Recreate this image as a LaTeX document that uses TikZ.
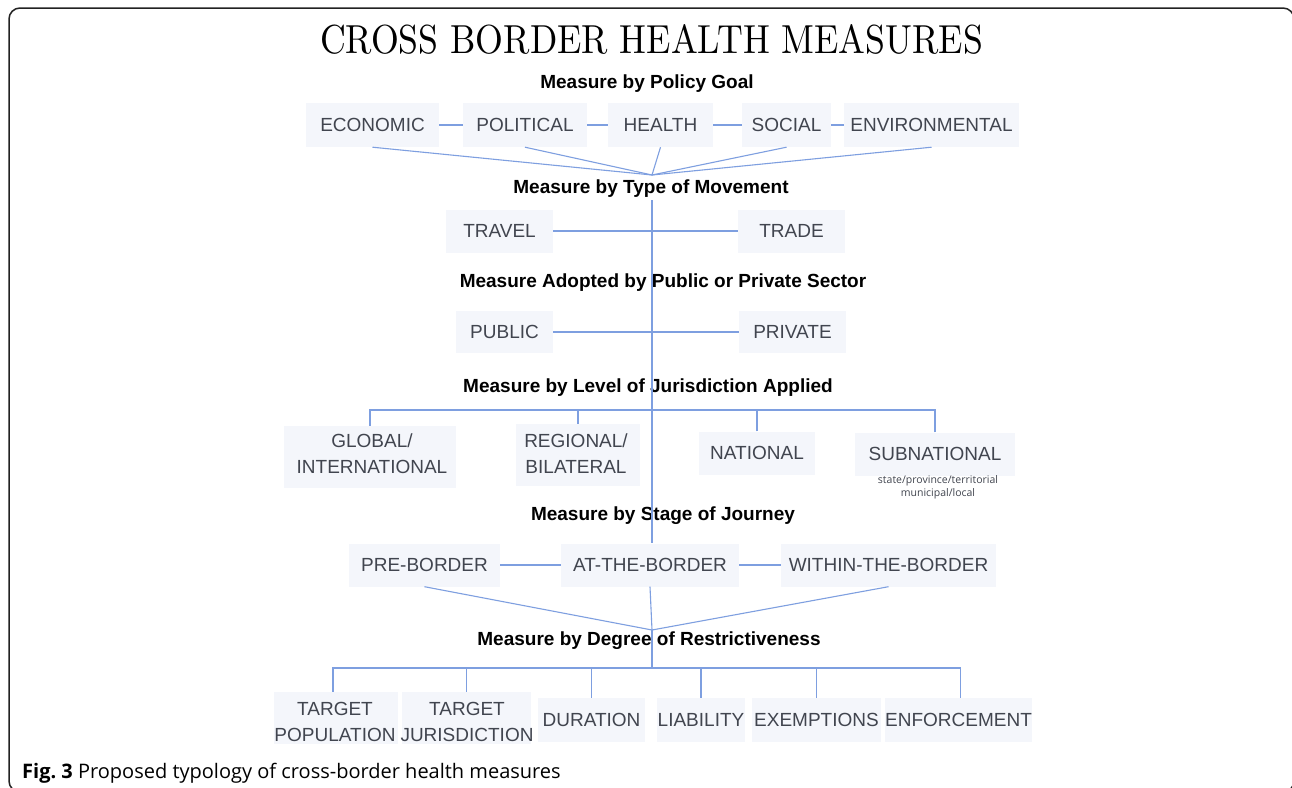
\documentclass[tikz,border=0pt]{standalone}
\usepackage{fontspec}
\setmainfont{Liberation Sans}
\newfontfamily\titlefont{Latin Modern Roman}
\newfontfamily\capfont{Open Sans}
\usetikzlibrary{calc}
\definecolor{boxfill}{HTML}{F4F6FB}
\definecolor{boxtext}{HTML}{41454F}
\definecolor{linkblue}{HTML}{7E9FE0}
\definecolor{framegray}{HTML}{222222}
\tikzset{
  catbox/.style={fill=boxfill, text=boxtext, inner sep=0pt, align=center,
    font=\fontsize{19}{27}\selectfont},
  boxlabel/.style={text=boxtext, inner sep=0pt, align=center,
    font=\fontsize{19}{26}\selectfont},
  heading/.style={font=\fontsize{19}{23}\selectfont\bfseries, text=black, inner sep=0pt},
  link/.style={draw=linkblue, line width=1.1pt},
  note/.style={font=\capfont\fontsize{10.5}{13.5}\selectfont, text=boxtext, align=center, inner sep=0pt}
}
\begin{document}
\begin{tikzpicture}[x=1pt,y=-1pt]
\useasboundingbox (0,0) rectangle (1292,787);
\fill[white] (0,0) rectangle (1292,787);
\begin{scope}
\clip (0,0) rectangle (1292,787);
\draw[framegray, line width=1.5pt, rounded corners=11pt] (9,8) rectangle (1294,792);
\end{scope}

% title
\node[anchor=base, inner sep=0pt] (title) at (651.5,53)
  {\resizebox{663pt}{29pt}{\titlefont CROSS BORDER HEALTH MEASURES}};

% level headings
\node[heading] (hgoal)  at (647,84)  {Measure by Policy Goal};
\node[heading] (hmove)  at (651,189) {Measure by Type of Movement};
\node[heading] (hsect)  at (663,283) {Measure Adopted by Public or Private Sector};
\node[heading] (hjur)   at (648,388) {Measure by Level of Jurisdiction Applied};
\node[heading] (hstage) at (663,516) {Measure by Stage of Journey};
\node[heading] (hdeg)   at (649,641) {Measure by Degree of Restrictiveness};

% connector points on the spine
\coordinate (m1) at (652,175);
\coordinate (s1) at (652,200);
\coordinate (jb) at (652,410);
\coordinate (m2) at (652,630);
\coordinate (rb) at (652,668);

% policy goals
\node[catbox, minimum width=133pt, minimum height=44pt] (eco)  at (372.5,125) {ECONOMIC};
\node[catbox, minimum width=124pt, minimum height=44pt] (pol)  at (525,125)   {POLITICAL};
\node[catbox, minimum width=105pt, minimum height=44pt] (hea)  at (660.5,125) {HEALTH};
\node[catbox, minimum width=89pt,  minimum height=44pt] (soc)  at (786.5,125) {SOCIAL};
\node[catbox, minimum width=175pt, minimum height=44pt] (env)  at (931.5,125) {ENVIRONMENTAL};

% type of movement
\node[catbox, minimum width=107pt, minimum height=43pt] (trav) at (499.5,231) {TRAVEL};
\node[catbox, minimum width=107pt, minimum height=43pt] (trad) at (791.5,231) {TRADE};

% sector
\node[catbox, minimum width=97pt,  minimum height=42pt] (pub)  at (504.5,332) {PUBLIC};
\node[catbox, minimum width=107pt, minimum height=42pt] (priv) at (792.5,332) {PRIVATE};

% jurisdiction (two-line boxes carry their label as a separate node)
\node[catbox, minimum width=172pt, minimum height=62pt] (glob) at (370,457) {};
\node[boxlabel] (globtxt) at (372,454) {GLOBAL/\\INTERNATIONAL};
\node[catbox, minimum width=124pt, minimum height=62pt] (reg)  at (578,455) {};
\node[boxlabel] (regtxt) at (576,454) {REGIONAL/\\BILATERAL};
\node[catbox, minimum width=116pt, minimum height=43pt] (nat)  at (757,453) {NATIONAL};
\node[catbox, minimum width=160pt, minimum height=43pt] (subn) at (935,454) {SUBNATIONAL};
\node[note, anchor=north] (subnote) at (938,475) {state/province/territorial\\municipal/local};

% stage of journey
\node[catbox, minimum width=151pt, minimum height=43pt] (pre) at (424.5,565) {PRE-BORDER};
\node[catbox, minimum width=178pt, minimum height=43pt] (atb) at (650,565)   {AT-THE-BORDER};
\node[catbox, minimum width=215pt, minimum height=43pt] (wtb) at (888.5,565) {WITHIN-THE-BORDER};

% restrictiveness
\node[catbox, minimum width=124pt, minimum height=52pt] (tpop) at (336,718) {};
\node[boxlabel] (tpoptxt) at (335,722) {TARGET\\POPULATION};
\node[catbox, minimum width=129pt, minimum height=52pt] (tjur) at (466.5,718) {};
\node[boxlabel] (tjurtxt) at (467,722) {TARGET\\JURISDICTION};
\node[catbox, minimum width=107pt, minimum height=44pt] (dur)  at (591.5,720) {DURATION};
\node[catbox, minimum width=88pt,  minimum height=44pt] (liab) at (701,720)   {LIABILITY};
\node[catbox, minimum width=129pt, minimum height=44pt] (exem) at (816.5,720) {EXEMPTIONS};
\node[catbox, minimum width=143pt, minimum height=44pt] (enf)  at (958.5,720) {ENFORCEMENT};

% connectors
\draw[link] (eco) -- (pol);
\draw[link] (pol) -- (hea);
\draw[link] (hea) -- (soc);
\draw[link] (soc) -- (env);
\foreach \n in {eco,pol,hea,soc,env} \draw[link] (\n.south) -- (m1);

\draw[link] (s1) -- (s1 |- atb.north);
\draw[link] (trav) -- (trad);
\draw[link] (pub) -- (priv);

\draw[link] (glob.north) |- (jb);
\draw[link] (subn.north) |- (jb);
\draw[link] (reg.north) -- (reg.north |- jb);
\draw[link] (nat.north) -- (nat.north |- jb);

\draw[link] (pre) -- (atb);
\draw[link] (atb) -- (wtb);
\foreach \n in {pre,atb,wtb} \draw[link] (\n.south) -- (m2);
\draw[link] (m2) -- (rb);

\draw[link] ([xshift=-3pt]tpop.north) |- (rb);
\draw[link] ([xshift=2pt]enf.north) |- (rb);
\foreach \n in {tjur,dur,liab,exem} \draw[link] (\n.north) -- (\n.north |- rb);

% caption
\node[anchor=base west, inner sep=0pt, font=\capfont\fontsize{20}{24}\selectfont] (caption) at (22,778)
  {\textbf{Fig.~3} Proposed typology of cross-border health measures};
\end{tikzpicture}
\end{document}
